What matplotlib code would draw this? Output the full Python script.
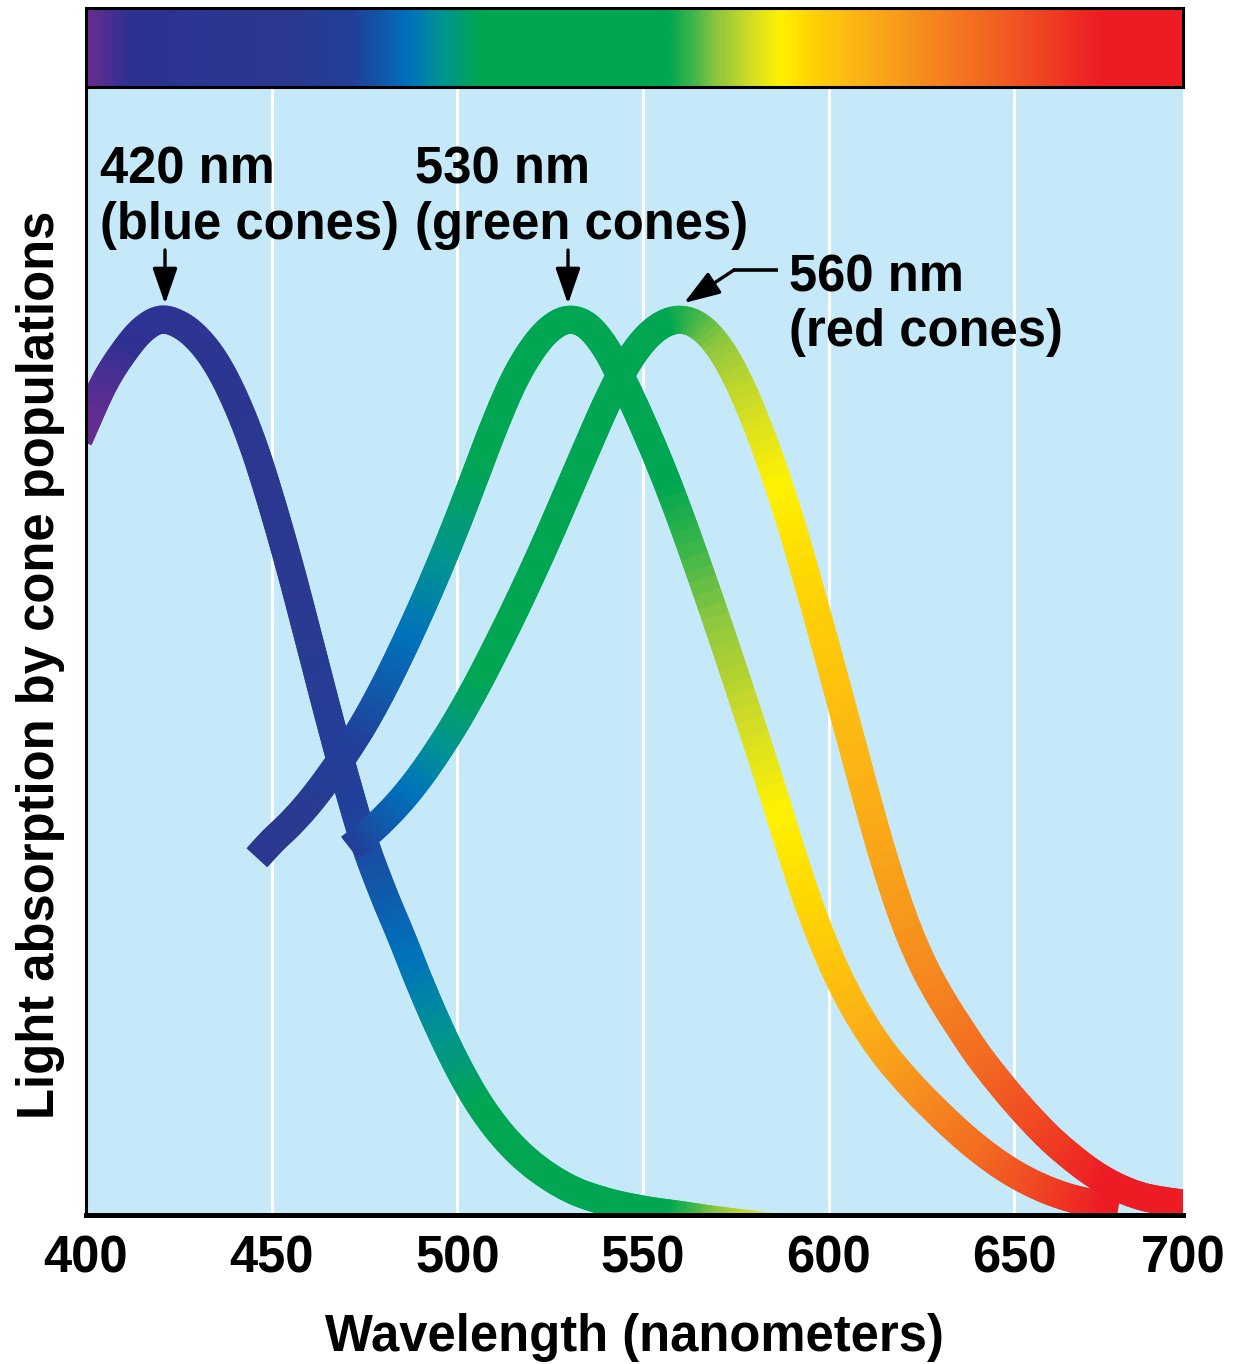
import numpy as np
import matplotlib
matplotlib.use("Agg")
import matplotlib.pyplot as plt
from matplotlib.collections import LineCollection
from matplotlib.colors import LinearSegmentedColormap, Normalize

# ---------------- data ----------------
blue_nm = [398, 400, 405, 410, 415, 420, 425, 430, 435, 440, 445, 450, 455, 460, 465,
           470, 475, 480, 485, 490, 495, 500, 505, 510, 515, 520, 525, 530, 540,
           550, 560, 570, 580, 586]
blue_abs = [0.866, 0.885, 0.93, 0.963, 0.988, 1.0, 0.995, 0.979, 0.952, 0.912, 0.86,
            0.795, 0.722, 0.643, 0.563, 0.486, 0.416, 0.36, 0.31, 0.258, 0.21, 0.167,
            0.13, 0.10, 0.076, 0.057, 0.042, 0.03, 0.015, 0.006, 0.0, -0.006, -0.011,
            -0.014]

green_nm = [446, 450, 455, 460, 465, 470, 475, 480, 485, 490, 495, 500, 505, 510,
            515, 520, 525, 530, 535, 540, 545, 550, 555, 560, 565, 570, 575, 580,
            585, 590, 595, 600, 605, 610, 615, 620, 630, 640, 650, 655, 660, 665,
            670, 678]
green_abs = [0.399, 0.417, 0.437, 0.46, 0.487, 0.517, 0.55, 0.588, 0.63, 0.675, 0.723,
             0.774, 0.828, 0.882, 0.93, 0.966, 0.99, 1.0, 0.993, 0.968, 0.928, 0.883,
             0.834, 0.78, 0.722, 0.662, 0.6, 0.537, 0.472, 0.405, 0.343, 0.29, 0.246,
             0.21, 0.18, 0.155, 0.112, 0.075, 0.046, 0.035, 0.026, 0.019, 0.014, 0.008]

red_nm = [471, 475, 480, 485, 490, 495, 500, 505, 510, 515, 520, 525, 530, 535, 540,
          545, 550, 555, 560, 565, 570, 575, 580, 585, 590, 595, 600, 605, 610, 615,
          620, 625, 630, 635, 640, 645, 650, 655, 660, 665, 670, 675, 680, 685, 690,
          697]
red_abs = [0.41, 0.423, 0.442, 0.464, 0.49, 0.52, 0.553, 0.59, 0.63, 0.672, 0.716,
           0.762, 0.81, 0.858, 0.905, 0.946, 0.976, 0.994, 1.0, 0.993, 0.972, 0.937,
           0.89, 0.834, 0.77, 0.698, 0.623, 0.546, 0.469, 0.396, 0.333, 0.283, 0.244,
           0.211, 0.18, 0.153, 0.128, 0.105, 0.084, 0.066, 0.05, 0.037, 0.027, 0.02,
           0.016, 0.012]

tick_values = [400, 450, 500, 550, 600, 650, 695.4]
tick_labels = ["400", "450", "500", "550", "600", "650", "700"]
grid_values = [450, 500, 550, 600, 650]

peak_labels = ["420 nm\n(blue cones)", "530 nm\n(green cones)", "560 nm\n(red cones)"]

# spectrum colour stops (nm, colour)
spec_nm = [400, 411, 457, 472, 487, 496, 506, 557, 563, 570, 580, 587, 596, 606,
           622, 644, 660, 674, 695.4]
spec_col = ["#662D91", "#2E3192", "#2B3990", "#21409A", "#0072BC", "#00958F",
            "#00A651", "#00A651", "#39B54A", "#8DC63F", "#D7DF23", "#FFF200",
            "#FFD204", "#FDB913", "#F7941D", "#F26522", "#EF3E23", "#ED1C24",
            "#ED1C24"]

X_MIN, X_MAX = 400, 695.4
Y_MAX = 1.26

plt.rcParams["font.family"] = ["Liberation Sans", "DejaVu Sans"]
plt.rcParams["font.weight"] = "bold"
FS = 36.5

cmap = LinearSegmentedColormap.from_list(
    "spectrum", [((n - X_MIN) / (X_MAX - X_MIN), c) for n, c in zip(spec_nm, spec_col)])
norm = Normalize(X_MIN, X_MAX)


def smooth(x, y, n=16):
    x = np.asarray(x, float)
    y = np.asarray(y, float)
    m = np.gradient(y, x)
    xs, ys = [], []
    t = np.linspace(0, 1, n, endpoint=False)
    h00 = 2 * t**3 - 3 * t**2 + 1
    h10 = t**3 - 2 * t**2 + t
    h01 = -2 * t**3 + 3 * t**2
    h11 = t**3 - t**2
    for i in range(len(x) - 1):
        h = x[i + 1] - x[i]
        xs.append(x[i] + t * h)
        ys.append(h00 * y[i] + h10 * h * m[i] + h01 * y[i + 1] + h11 * h * m[i + 1])
    xs.append([x[-1]])
    ys.append([y[-1]])
    return np.concatenate(xs), np.concatenate(ys)


def gradient_curve(ax, x, y, lw, z):
    xs, ys = smooth(x, y)
    pts = np.column_stack([xs, ys])
    segs = [pts[i:i + 3] for i in range(len(pts) - 2)]
    mids = np.clip(xs[1:-1], X_MIN, X_MAX)
    lc = LineCollection(segs, cmap=cmap, norm=norm, linewidths=lw,
                        capstyle="butt", joinstyle="round", zorder=z)
    lc.set_array(mids)
    ax.add_collection(lc)


W, H = 1233, 1364
fig = plt.figure(figsize=(W / 100, H / 100), dpi=100)
fig.patch.set_facecolor("white")

ax = fig.add_axes([86 / W, (H - 1215) / H, 1097 / W, 1128 / H])
bar = fig.add_axes([86 / W, (H - 87) / H, 1097 / W, 79 / H])

# spectrum bar
bar.imshow(np.linspace(X_MIN, X_MAX, 800)[None, :], aspect="auto", cmap=cmap,
           norm=norm, extent=[X_MIN, X_MAX, 0, 1])
bar.set_xlim(X_MIN, X_MAX)
bar.set_xticks([])
bar.set_yticks([])
for s in bar.spines.values():
    s.set_linewidth(2.2)
    s.set_color("black")

# main panel
ax.set_facecolor("#C6E9FA")
ax.set_xlim(X_MIN, X_MAX)
ax.set_ylim(0, Y_MAX)
for g in grid_values:
    ax.axvline(g, color="white", lw=2.2, zorder=1)

lw = 28 * 72 / 100
gradient_curve(ax, blue_nm, blue_abs, lw, 2)
gradient_curve(ax, green_nm, green_abs, lw, 2.1)
gradient_curve(ax, red_nm, red_abs, lw, 2.2)

ax.set_xticks(tick_values)
ax.set_xticklabels(tick_labels)
ax.set_yticks([])
ax.tick_params(axis="x", length=0, pad=14, labelsize=FS)
for lab in ax.get_xticklabels():
    lab.set_fontweight("bold")
ax.spines["top"].set_visible(False)
ax.spines["right"].set_visible(False)
ax.spines["left"].set_linewidth(2.2)
ax.spines["bottom"].set_linewidth(3.6)

ax.set_xlabel("Wavelength (nanometers)", fontsize=FS, fontweight="bold", labelpad=21)
ax.set_ylabel("Light absorption by cone populations", fontsize=FS, fontweight="bold")
ax.yaxis.set_label_coords(-0.019, 0.488)
ax.yaxis.label.set_va("bottom")

# annotations
def px2x(px):
    return X_MIN + (px - 86) / 1097 * (X_MAX - X_MIN)


def px2y(py):
    return (1215 - py) / 1128 * Y_MAX


ls = 1.15
ax.text(px2x(100), px2y(146), peak_labels[0], fontsize=FS, fontweight="bold",
        ha="left", va="top", linespacing=ls, zorder=5)
ax.text(px2x(415), px2y(146), peak_labels[1], fontsize=FS, fontweight="bold",
        ha="left", va="top", linespacing=ls, zorder=5)
ax.text(px2x(789), px2y(253), peak_labels[2], fontsize=FS, fontweight="bold",
        ha="left", va="top", linespacing=ls, zorder=5)

aprops = dict(arrowstyle="-|>,head_length=1.1,head_width=0.38", color="black",
              lw=2.4, shrinkA=0, shrinkB=0, mutation_scale=20)
ax.annotate("", xy=(px2x(165), px2y(304)), xytext=(px2x(165), px2y(250)),
            arrowprops=aprops, zorder=5)
ax.annotate("", xy=(px2x(568), px2y(304)), xytext=(px2x(568), px2y(250)),
            arrowprops=aprops, zorder=5)
ax.plot([px2x(778), px2x(733)], [px2y(270), px2y(270)], color="black", lw=2.6,
        solid_capstyle="butt", zorder=5)
ax.annotate("", xy=(px2x(684), px2y(303)), xytext=(px2x(734), px2y(270)),
            arrowprops=aprops, zorder=5)

fig.savefig("out.png", dpi=100)
